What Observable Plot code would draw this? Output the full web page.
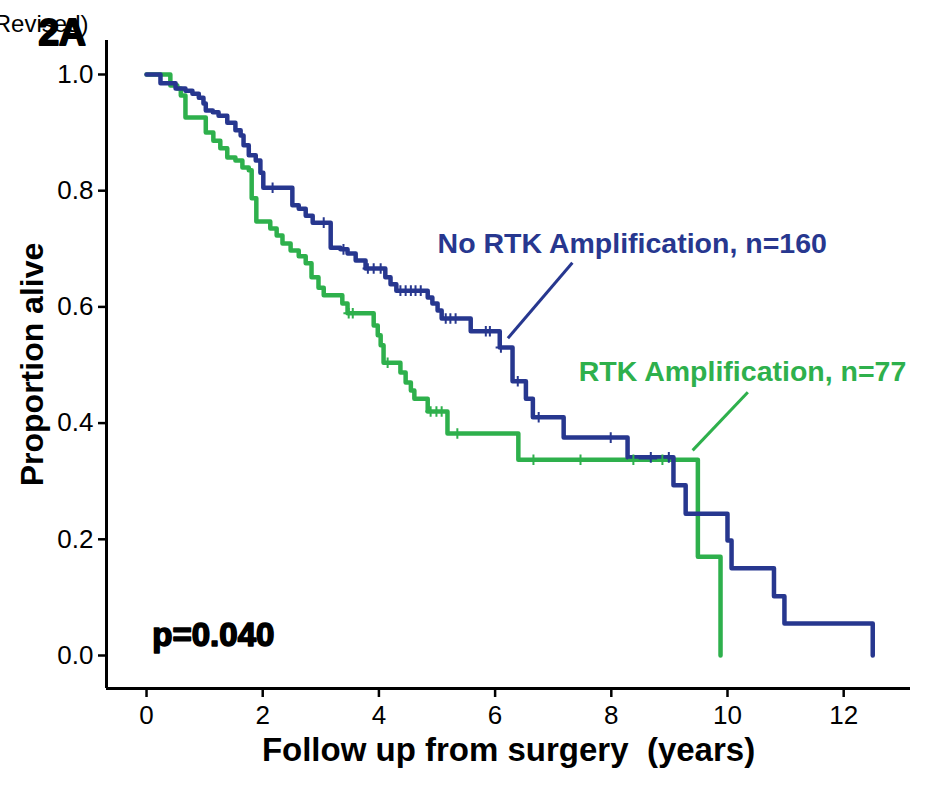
<!DOCTYPE html>
<html><head><meta charset="utf-8">
<script src="https://cdn.jsdelivr.net/npm/d3@7"></script>
<script src="https://cdn.jsdelivr.net/npm/@observablehq/plot@0.6"></script>
<style>body{margin:0;background:#fff;} svg{display:block;overflow:visible}</style>
</head><body><div id="chart"></div>
<script>
// No RTK Amplification (n=160): event times (years) and survival after each step
const blueTime = [0, 0.24, 0.50, 0.67, 0.79, 0.90, 0.98, 1.02, 1.14, 1.24, 1.39, 1.53, 1.62, 1.67, 1.76, 1.88, 1.96, 2.01,
  2.51, 2.62, 2.74, 2.86, 3.17, 3.34, 3.46, 3.60, 3.77, 4.11, 4.20, 4.30, 4.84, 4.92, 5.01, 5.08, 5.58, 6.08, 6.30, 6.53,
  6.65, 7.18, 8.28, 9.07, 9.28, 10.00, 10.07, 10.80, 10.98, 12.50];
const blueSurv = [1.0, 0.985, 0.976, 0.972, 0.967, 0.960, 0.950, 0.938, 0.935, 0.929, 0.917, 0.904, 0.895, 0.878, 0.861, 0.852, 0.831, 0.805,
  0.775, 0.769, 0.757, 0.745, 0.702, 0.699, 0.692, 0.680, 0.666, 0.651, 0.639, 0.628, 0.616, 0.606, 0.594, 0.580, 0.558, 0.530, 0.472, 0.442,
  0.410, 0.375, 0.341, 0.293, 0.244, 0.198, 0.150, 0.102, 0.055, 0.0];
const blueCensor = [2.17, 3.05, 3.39, 3.81, 3.91, 4.03, 4.37, 4.46, 4.55, 4.63, 4.72, 5.15, 5.23, 5.32, 5.84, 5.91, 6.10, 6.39, 6.75, 7.99, 8.68, 8.99];

// RTK Amplification (n=77)
const greenTime = [0, 0.41, 0.53, 0.59, 0.67, 1.02, 1.15, 1.27, 1.39, 1.53, 1.65, 1.76, 1.81, 1.89, 2.13, 2.24, 2.34, 2.48, 2.62, 2.74,
  2.84, 2.96, 3.05, 3.37, 3.46, 3.91, 3.98, 4.03, 4.08, 4.37, 4.46, 4.55, 4.61, 4.84, 5.18, 6.40, 9.49, 9.88];
const greenSurv = [1.0, 0.981, 0.976, 0.964, 0.926, 0.900, 0.886, 0.873, 0.857, 0.852, 0.840, 0.835, 0.787, 0.747, 0.735, 0.723, 0.709, 0.697, 0.687, 0.675,
  0.651, 0.633, 0.620, 0.606, 0.589, 0.568, 0.551, 0.534, 0.504, 0.487, 0.470, 0.456, 0.442, 0.420, 0.382, 0.337, 0.170, 0.0];
const greenCensor = [3.48, 3.55, 4.15, 4.89, 4.99, 5.08, 5.35, 6.66, 7.47, 8.38, 8.88];

const xTicks = [0, 2, 4, 6, 8, 10, 12];
const yTicks = [0.0, 0.2, 0.4, 0.6, 0.8, 1.0];

const blueLabel = "No RTK Amplification, n=160";
const greenLabel = "RTK Amplification, n=77";
const pLabel = "p=0.040";
const xTitle = "Follow up from surgery  (years)";
const yTitle = "Proportion alive";
const panel = "2A";
const revised = "(Revised)";

const BLUE = "#27378f";
const GREEN = "#2eb04c";

const steps = (T, S) => T.map((t, i) => ({t, s: S[i]}));
const survAt = (T, S, t) => { let v = S[0]; for (let i = 0; i < T.length; i++) if (T[i] <= t) v = S[i]; return v; };
const blueRows = steps(blueTime, blueSurv);
const greenRows = steps(greenTime, greenSurv);
const blueC = blueCensor.map(t => ({t, s: survAt(blueTime, blueSurv, t)}));
const greenC = greenCensor.map(t => ({t, s: survAt(greenTime, greenSurv, t)}));

const xDom = [-0.689, 13.15], yDom = [-0.0568, 1.0585];
const font = "'Liberation Sans', Arial, Helvetica, sans-serif";

const chart = Plot.plot({
  width: 933, height: 786,
  marginLeft: 106, marginRight: 23, marginTop: 40, marginBottom: 98,
  x: {domain: xDom},
  y: {domain: yDom},
  style: {fontFamily: font, background: "white", color: "black"},
  marks: [
    Plot.axisX(xTicks, {anchor: "bottom", tickSize: 9, tickPadding: 8, fontSize: 26, strokeWidth: 2.5, tickFormat: d => String(d), label: null}),
    Plot.axisY(yTicks, {anchor: "left", tickSize: 8, tickPadding: 5, fontSize: 26, strokeWidth: 2.5, tickFormat: d3.format(".1f"), label: null}),
    Plot.ruleX([xDom[0]], {strokeWidth: 3}),
    Plot.ruleY([yDom[0]], {strokeWidth: 3}),
    Plot.line(greenRows, {x: "t", y: "s", curve: "step-after", stroke: GREEN, strokeWidth: 4.5}),
    Plot.line(blueRows, {x: "t", y: "s", curve: "step-after", stroke: BLUE, strokeWidth: 4.5}),
    Plot.dot(greenC, {x: "t", y: "s", symbol: "plus", r: 3.5, stroke: GREEN, strokeWidth: 2}),
    Plot.dot(blueC, {x: "t", y: "s", symbol: "plus", r: 3.5, stroke: BLUE, strokeWidth: 2}),
    // leader lines
    Plot.link([{x1: 6.22, y1: 0.546, x2: 7.33, y2: 0.676}], {x1: "x1", y1: "y1", x2: "x2", y2: "y2", stroke: BLUE, strokeWidth: 3}),
    Plot.link([{x1: 9.40, y1: 0.353, x2: 10.35, y2: 0.453}], {x1: "x1", y1: "y1", x2: "x2", y2: "y2", stroke: GREEN, strokeWidth: 3}),
    Plot.text([blueLabel], {x: 5.01, y: 0.709, text: d => d, textAnchor: "start", fill: BLUE, fontSize: 28.5, fontWeight: "bold"}),
    Plot.text([greenLabel], {x: 7.44, y: 0.489, text: d => d, textAnchor: "start", fill: GREEN, fontSize: 28.5, fontWeight: "bold"}),
    Plot.text([pLabel], {x: 0.10, y: 0.034, text: d => d, textAnchor: "start", fill: "black", stroke: "black", strokeWidth: 1.6, fontSize: 33, fontWeight: "bold"}),
    Plot.text([xTitle], {frameAnchor: "bottom", dy: 72, text: d => d, fontSize: 33, fontWeight: "bold", fill: "black"}),
    Plot.text([yTitle], {frameAnchor: "left", dx: -74, rotate: -90, textAnchor: "middle", text: d => d, fontSize: 32, fontWeight: "bold", fill: "black"}),
    Plot.text([revised], {frameAnchor: "top-left", dx: -18, dy: -26, textAnchor: "end", text: d => d, fontSize: 24, fill: "black"}),
    Plot.text([panel], {frameAnchor: "top-left", dx: -68, dy: -22, textAnchor: "start", text: d => d, fontSize: 37, fontWeight: "bold", fill: "black", stroke: "black", strokeWidth: 2})
  ]
});
document.getElementById("chart").appendChild(chart);
</script></body></html>
